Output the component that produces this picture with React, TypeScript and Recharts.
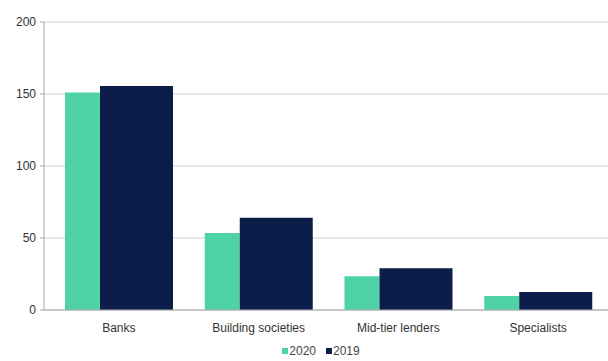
import { Bar, BarChart, CartesianGrid, Legend, XAxis, YAxis } from "recharts";

document.body.style.margin = "0";

const categories = ["Banks", "Building societies", "Mid-tier lenders", "Specialists"];
const values2020 = [151, 53.5, 23.5, 9.7];
const values2019 = [155.5, 64, 29, 12.5];
const yTicks = [0, 50, 100, 150, 200];
const seriesNames = ["2020", "2019"];
const seriesColors = ["#4fd3a6", "#0b1d48"];

const chartData = categories.map((name, i) => ({
  name,
  y2020: values2020[i],
  y2019: values2019[i],
}));

const font = "'Liberation Sans', Arial, sans-serif";

function LegendBox() {
  return (
    <div style={{ display: "flex", justifyContent: "center", gap: 10, fontSize: 12, color: "#444", paddingTop: 8, paddingLeft: 34, fontFamily: font }}>
      {seriesNames.map((n, i) => (
        <span key={n} style={{ display: "flex", alignItems: "center" }}>
          <span style={{ display: "inline-block", width: 6, height: 6, background: seriesColors[i], marginRight: 1 }} />
          {n}
        </span>
      ))}
    </div>
  );
}

export default function App() {
  return (
    <div style={{ width: 608, height: 361, background: "#fff", fontFamily: font }}>
      <BarChart
        width={608}
        height={361}
        data={chartData}
        margin={{ top: 22, right: 0, left: 0, bottom: 0 }}
        barGap={0}
      >
        <CartesianGrid vertical={false} stroke="#cfcfcf" />
        <XAxis
          dataKey="name"
          stroke="#aaa"
          tickLine={false}
          tick={{ fill: "#333", fontSize: 12, fontFamily: font }}
          tickMargin={7}
          height={26}
          padding={{ left: 5, right: 0 }}
        />
        <YAxis
          domain={[0, 200]}
          ticks={yTicks}
          width={44}
          stroke="#aaa"
          tickSize={4}
          tickMargin={4}
          tick={{ fill: "#333", fontSize: 12, fontFamily: font }}
        />
        <Legend verticalAlign="bottom" height={25} content={<LegendBox />} />
        <Bar dataKey="y2020" name="2020" fill={seriesColors[0]} barSize={35} isAnimationActive={false} />
        <Bar dataKey="y2019" name="2019" fill={seriesColors[1]} barSize={73} isAnimationActive={false} />
      </BarChart>
    </div>
  );
}
